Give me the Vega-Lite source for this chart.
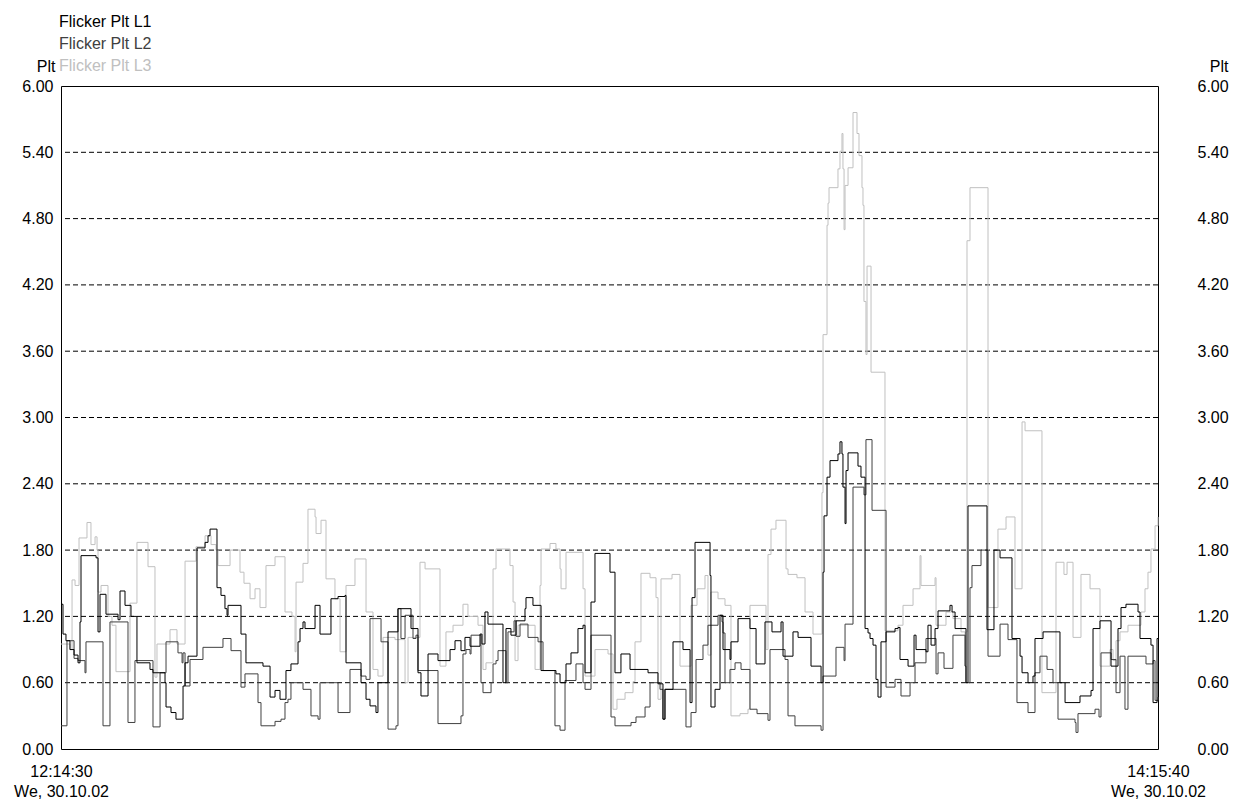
{
"$schema": "https://vega.github.io/schema/vega-lite/v6.json",
"width": 1097, "height": 663,
"autosize": {"type": "none"},
"padding": {"left": 61, "top": 86, "right": 76, "bottom": 54},
"background": "white",
"config": {"view": {"stroke": "#000000", "strokeWidth": 1}, "font": "Liberation Sans"},
"layer": [
{"data": {"values": [{"g":0.6},{"g":1.2},{"g":1.8},{"g":2.4},{"g":3.0},{"g":3.6},{"g":4.2},{"g":4.8},{"g":5.4}]},
 "mark": {"type": "rule", "stroke": "#000000", "strokeWidth": 1, "strokeDash": [5, 3]},
 "encoding": {"y": {"field": "g", "type": "quantitative", "scale": {"domain": [0, 6], "nice": false},
   "axis": {"orient": "right", "values": [0,0.6,1.2,1.8,2.4,3.0,3.6,4.2,4.8,5.4,6.0], "format": ".2f", "ticks": false, "domain": false, "grid": false,
     "labelAlign": "left", "labelPadding": 39, "labelFontSize": 16, "labelColor": "#000000", "labelBaseline": "middle",
     "title": "Plt", "titleAngle": 0, "titleX": 70, "titleY": -20, "titleAlign": "right", "titleBaseline": "middle", "titleFontSize": 16, "titleFontWeight": "normal", "titleColor": "#000000"}}}},
{"data": {"values": [
{"m":0,"s":"L3","v":0.95},{"m":0.99,"s":"L3","v":0.9},{"m":1.22,"s":"L3","v":1.53},{"m":1.55,"s":"L3","v":1.48},{"m":1.99,"s":"L3","v":1.91},{"m":2.87,"s":"L3","v":2.05},{"m":3.31,"s":"L3","v":1.85},{"m":3.76,"s":"L3","v":1.92},{"m":3.98,"s":"L3","v":1.8},{"m":4.09,"s":"L3","v":1.42},{"m":4.42,"s":"L3","v":1.48},{"m":5.19,"s":"L3","v":1.2},{"m":5.63,"s":"L3","v":1.12},{"m":6.07,"s":"L3","v":0.7},{"m":7.62,"s":"L3","v":1.32},{"m":8.39,"s":"L3","v":1.87},{"m":9.61,"s":"L3","v":1.65},{"m":10.38,"s":"L3","v":0.65},{"m":10.6,"s":"L3","v":0.95},{"m":12.04,"s":"L3","v":1.08},{"m":12.81,"s":"L3","v":0.95},{"m":13.7,"s":"L3","v":1.7},{"m":14.91,"s":"L3","v":1.83},{"m":15.91,"s":"L3","v":1.93},{"m":16.57,"s":"L3","v":1.85},{"m":17.12,"s":"L3","v":1.8},{"m":17.34,"s":"L3","v":1.66},{"m":18.67,"s":"L3","v":1.8},{"m":19.77,"s":"L3","v":1.6},{"m":20.21,"s":"L3","v":1.5},{"m":20.88,"s":"L3","v":1.36},{"m":21.43,"s":"L3","v":1.45},{"m":21.98,"s":"L3","v":1.28},{"m":22.64,"s":"L3","v":1.66},{"m":23.64,"s":"L3","v":1.74},{"m":24.74,"s":"L3","v":1.24},{"m":25.51,"s":"L3","v":1.2},{"m":25.85,"s":"L3","v":0.88},{"m":25.96,"s":"L3","v":1.51},{"m":26.73,"s":"L3","v":1.68},{"m":27.28,"s":"L3","v":2.17},{"m":28.06,"s":"L3","v":2.1},{"m":28.17,"s":"L3","v":1.95},{"m":28.72,"s":"L3","v":2.07},{"m":29.27,"s":"L3","v":1.54},{"m":30.26,"s":"L3","v":1.36},{"m":30.82,"s":"L3","v":0.88},{"m":31.48,"s":"L3","v":1.48},{"m":32.47,"s":"L3","v":1.72},{"m":33.69,"s":"L3","v":1.24},{"m":34.46,"s":"L3","v":0.72},{"m":35.01,"s":"L3","v":0.66},{"m":35.57,"s":"L3","v":1.01},{"m":36.89,"s":"L3","v":0.99},{"m":38.0,"s":"L3","v":0.6},{"m":38.33,"s":"L3","v":1.01},{"m":39.65,"s":"L3","v":1.69},{"m":40.21,"s":"L3","v":1.63},{"m":41.86,"s":"L3","v":0.75},{"m":42.52,"s":"L3","v":1.06},{"m":43.3,"s":"L3","v":1.12},{"m":44.4,"s":"L3","v":1.31},{"m":44.95,"s":"L3","v":1.2},{"m":46.06,"s":"L3","v":1.12},{"m":46.61,"s":"L3","v":0.72},{"m":46.94,"s":"L3","v":0.78},{"m":47.72,"s":"L3","v":1.63},{"m":48.05,"s":"L3","v":1.81},{"m":49.59,"s":"L3","v":1.66},{"m":49.93,"s":"L3","v":1.33},{"m":50.15,"s":"L3","v":0.8},{"m":50.48,"s":"L3","v":1.12},{"m":52.36,"s":"L3","v":0.72},{"m":52.91,"s":"L3","v":1.48},{"m":53.02,"s":"L3","v":1.81},{"m":54.01,"s":"L3","v":1.86},{"m":54.67,"s":"L3","v":1.81},{"m":55.12,"s":"L3","v":1.63},{"m":55.23,"s":"L3","v":1.45},{"m":55.78,"s":"L3","v":1.78},{"m":57.66,"s":"L3","v":1.45},{"m":57.88,"s":"L3","v":0.66},{"m":58.98,"s":"L3","v":0.9},{"m":60.42,"s":"L3","v":0.86},{"m":60.97,"s":"L3","v":0.36},{"m":61.41,"s":"L3","v":0.45},{"m":62.3,"s":"L3","v":0.51},{"m":63.18,"s":"L3","v":0.61},{"m":63.4,"s":"L3","v":0.97},{"m":64.06,"s":"L3","v":1.59},{"m":65.06,"s":"L3","v":1.55},{"m":65.72,"s":"L3","v":1.37},{"m":65.94,"s":"L3","v":0.45},{"m":66.27,"s":"L3","v":1.54},{"m":67.49,"s":"L3","v":1.58},{"m":68.37,"s":"L3","v":0.75},{"m":69.59,"s":"L3","v":1.3},{"m":70.25,"s":"L3","v":1.45},{"m":71.13,"s":"L3","v":1.57},{"m":71.46,"s":"L3","v":0.85},{"m":71.79,"s":"L3","v":1.42},{"m":72.57,"s":"L3","v":1.36},{"m":73.34,"s":"L3","v":1.3},{"m":74.0,"s":"L3","v":0.3},{"m":75.0,"s":"L3","v":0.32},{"m":75.88,"s":"L3","v":0.36},{"m":76.1,"s":"L3","v":1.3},{"m":77.87,"s":"L3","v":0.9},{"m":78.09,"s":"L3","v":1.76},{"m":78.42,"s":"L3","v":1.99},{"m":78.97,"s":"L3","v":2.07},{"m":80.08,"s":"L3","v":1.63},{"m":80.3,"s":"L3","v":1.58},{"m":81.29,"s":"L3","v":1.55},{"m":82.18,"s":"L3","v":1.24},{"m":83.06,"s":"L3","v":1.04},{"m":84.05,"s":"L3","v":2.32},{"m":84.17,"s":"L3","v":3.75},{"m":84.61,"s":"L3","v":4.74},{"m":84.72,"s":"L3","v":4.94},{"m":84.83,"s":"L3","v":5.08},{"m":85.82,"s":"L3","v":5.25},{"m":86.04,"s":"L3","v":5.41},{"m":86.26,"s":"L3","v":5.57},{"m":86.37,"s":"L3","v":5.25},{"m":86.49,"s":"L3","v":4.7},{"m":86.6,"s":"L3","v":5.1},{"m":86.93,"s":"L3","v":5.26},{"m":87.48,"s":"L3","v":5.76},{"m":87.92,"s":"L3","v":5.57},{"m":88.14,"s":"L3","v":5.37},{"m":88.47,"s":"L3","v":5.08},{"m":88.58,"s":"L3","v":4.92},{"m":88.69,"s":"L3","v":4.05},{"m":88.91,"s":"L3","v":3.57},{"m":89.03,"s":"L3","v":4.37},{"m":89.47,"s":"L3","v":3.41},{"m":91.01,"s":"L3","v":1.07},{"m":92.45,"s":"L3","v":1.12},{"m":93.0,"s":"L3","v":1.3},{"m":94.11,"s":"L3","v":1.45},{"m":94.88,"s":"L3","v":1.75},{"m":94.99,"s":"L3","v":1.48},{"m":96.54,"s":"L3","v":1.55},{"m":96.65,"s":"L3","v":1.12},{"m":97.75,"s":"L3","v":1.24},{"m":98.52,"s":"L3","v":1.18},{"m":99.41,"s":"L3","v":1.06},{"m":99.85,"s":"L3","v":0.75},{"m":99.96,"s":"L3","v":1.06},{"m":100.07,"s":"L3","v":4.6},{"m":100.4,"s":"L3","v":5.08},{"m":102.39,"s":"L3","v":1.28},{"m":103.49,"s":"L3","v":1.99},{"m":104.38,"s":"L3","v":2.1},{"m":105.37,"s":"L3","v":1.45},{"m":106.15,"s":"L3","v":2.96},{"m":106.48,"s":"L3","v":2.88},{"m":108.35,"s":"L3","v":0.51},{"m":109.9,"s":"L3","v":1.69},{"m":110.78,"s":"L3","v":1.58},{"m":111.12,"s":"L3","v":1.69},{"m":111.78,"s":"L3","v":1.01},{"m":112.66,"s":"L3","v":1.58},{"m":113.66,"s":"L3","v":1.45},{"m":114.76,"s":"L3","v":0.75},{"m":115.87,"s":"L3","v":0.9},{"m":116.2,"s":"L3","v":0.8},{"m":116.53,"s":"L3","v":0.98},{"m":116.97,"s":"L3","v":1.06},{"m":117.85,"s":"L3","v":1.12},{"m":119.29,"s":"L3","v":1.24},{"m":119.73,"s":"L3","v":1.45},{"m":120.06,"s":"L3","v":1.6},{"m":120.39,"s":"L3","v":1.81},{"m":120.84,"s":"L3","v":2.02},{"m":121.17,"s":"L3","v":2.1},
{"m":0,"s":"L2","v":0.21},{"m":0.66,"s":"L2","v":0.98},{"m":1.44,"s":"L2","v":0.82},{"m":1.88,"s":"L2","v":0.8},{"m":2.65,"s":"L2","v":0.69},{"m":2.76,"s":"L2","v":0.97},{"m":4.64,"s":"L2","v":0.21},{"m":5.41,"s":"L2","v":1.15},{"m":7.4,"s":"L2","v":0.24},{"m":8.17,"s":"L2","v":0.8},{"m":10.16,"s":"L2","v":0.2},{"m":10.94,"s":"L2","v":0.69},{"m":11.6,"s":"L2","v":0.97},{"m":12.92,"s":"L2","v":0.87},{"m":13.37,"s":"L2","v":0.78},{"m":13.48,"s":"L2","v":0.87},{"m":13.7,"s":"L2","v":0.57},{"m":14.25,"s":"L2","v":0.81},{"m":15.68,"s":"L2","v":0.92},{"m":17.89,"s":"L2","v":1.0},{"m":18.78,"s":"L2","v":0.89},{"m":19.88,"s":"L2","v":0.56},{"m":20.32,"s":"L2","v":0.68},{"m":21.76,"s":"L2","v":0.42},{"m":22.09,"s":"L2","v":0.21},{"m":23.64,"s":"L2","v":0.25},{"m":24.3,"s":"L2","v":0.27},{"m":24.74,"s":"L2","v":0.42},{"m":25.07,"s":"L2","v":0.45},{"m":25.4,"s":"L2","v":0.6},{"m":26.73,"s":"L2","v":0.54},{"m":27.61,"s":"L2","v":0.3},{"m":28.39,"s":"L2","v":0.27},{"m":28.61,"s":"L2","v":0.6},{"m":30.6,"s":"L2","v":0.33},{"m":31.92,"s":"L2","v":0.72},{"m":33.14,"s":"L2","v":0.66},{"m":33.69,"s":"L2","v":0.63},{"m":34.13,"s":"L2","v":1.18},{"m":35.35,"s":"L2","v":0.97},{"m":36.12,"s":"L2","v":0.18},{"m":37.0,"s":"L2","v":0.21},{"m":37.22,"s":"L2","v":1.27},{"m":37.55,"s":"L2","v":1.0},{"m":38.0,"s":"L2","v":1.21},{"m":38.88,"s":"L2","v":1.0},{"m":39.21,"s":"L2","v":1.03},{"m":39.43,"s":"L2","v":0.71},{"m":41.64,"s":"L2","v":0.23},{"m":44.18,"s":"L2","v":0.3},{"m":44.4,"s":"L2","v":0.86},{"m":44.73,"s":"L2","v":0.9},{"m":45.18,"s":"L2","v":0.86},{"m":45.29,"s":"L2","v":1.03},{"m":46.39,"s":"L2","v":0.6},{"m":46.61,"s":"L2","v":0.51},{"m":47.5,"s":"L2","v":0.6},{"m":47.72,"s":"L2","v":0.77},{"m":48.05,"s":"L2","v":0.8},{"m":48.27,"s":"L2","v":0.89},{"m":49.15,"s":"L2","v":0.6},{"m":49.37,"s":"L2","v":1.06},{"m":50.04,"s":"L2","v":1.16},{"m":50.26,"s":"L2","v":1.02},{"m":50.7,"s":"L2","v":1.13},{"m":51.58,"s":"L2","v":1.01},{"m":52.69,"s":"L2","v":0.97},{"m":53.24,"s":"L2","v":0.71},{"m":54.56,"s":"L2","v":0.21},{"m":55.12,"s":"L2","v":0.17},{"m":55.67,"s":"L2","v":0.62},{"m":56.88,"s":"L2","v":0.77},{"m":57.66,"s":"L2","v":0.6},{"m":57.88,"s":"L2","v":0.54},{"m":58.54,"s":"L2","v":1.03},{"m":60.75,"s":"L2","v":0.29},{"m":61.19,"s":"L2","v":0.21},{"m":62.96,"s":"L2","v":0.24},{"m":63.51,"s":"L2","v":0.29},{"m":64.51,"s":"L2","v":0.38},{"m":65.06,"s":"L2","v":0.6},{"m":66.16,"s":"L2","v":0.54},{"m":66.49,"s":"L2","v":0.27},{"m":66.71,"s":"L2","v":0.54},{"m":69.03,"s":"L2","v":0.2},{"m":69.59,"s":"L2","v":0.33},{"m":70.14,"s":"L2","v":0.81},{"m":70.91,"s":"L2","v":0.94},{"m":71.46,"s":"L2","v":1.12},{"m":72.57,"s":"L2","v":1.21},{"m":73.01,"s":"L2","v":1.15},{"m":73.12,"s":"L2","v":1.05},{"m":73.34,"s":"L2","v":0.6},{"m":73.89,"s":"L2","v":0.72},{"m":74.45,"s":"L2","v":0.78},{"m":75.11,"s":"L2","v":0.72},{"m":76.1,"s":"L2","v":0.36},{"m":76.88,"s":"L2","v":0.32},{"m":78.09,"s":"L2","v":0.26},{"m":78.31,"s":"L2","v":0.9},{"m":79.97,"s":"L2","v":0.81},{"m":80.3,"s":"L2","v":0.3},{"m":81.07,"s":"L2","v":0.21},{"m":83.95,"s":"L2","v":0.17},{"m":84.17,"s":"L2","v":0.66},{"m":85.6,"s":"L2","v":0.92},{"m":86.49,"s":"L2","v":0.8},{"m":86.6,"s":"L2","v":1.13},{"m":87.48,"s":"L2","v":2.37},{"m":88.69,"s":"L2","v":2.3},{"m":88.91,"s":"L2","v":2.8},{"m":89.58,"s":"L2","v":2.16},{"m":91.13,"s":"L2","v":0.56},{"m":92.12,"s":"L2","v":0.63},{"m":92.78,"s":"L2","v":0.48},{"m":93.78,"s":"L2","v":0.6},{"m":94.33,"s":"L2","v":0.78},{"m":95.54,"s":"L2","v":1.0},{"m":96.65,"s":"L2","v":0.68},{"m":96.87,"s":"L2","v":0.87},{"m":97.53,"s":"L2","v":0.73},{"m":98.52,"s":"L2","v":1.03},{"m":99.85,"s":"L2","v":0.75},{"m":99.96,"s":"L2","v":0.6},{"m":100.4,"s":"L2","v":1.46},{"m":100.62,"s":"L2","v":1.66},{"m":101.62,"s":"L2","v":1.8},{"m":102.39,"s":"L2","v":0.84},{"m":103.72,"s":"L2","v":1.13},{"m":104.6,"s":"L2","v":0.99},{"m":105.59,"s":"L2","v":0.42},{"m":106.81,"s":"L2","v":0.33},{"m":107.58,"s":"L2","v":0.69},{"m":108.13,"s":"L2","v":0.84},{"m":108.91,"s":"L2","v":0.72},{"m":109.57,"s":"L2","v":0.6},{"m":110.12,"s":"L2","v":0.27},{"m":112.0,"s":"L2","v":0.24},{"m":112.11,"s":"L2","v":0.15},{"m":112.33,"s":"L2","v":0.32},{"m":114.21,"s":"L2","v":0.36},{"m":114.65,"s":"L2","v":0.29},{"m":114.87,"s":"L2","v":0.87},{"m":115.98,"s":"L2","v":0.81},{"m":116.53,"s":"L2","v":0.51},{"m":116.97,"s":"L2","v":0.84},{"m":117.52,"s":"L2","v":0.36},{"m":117.85,"s":"L2","v":0.84},{"m":119.84,"s":"L2","v":0.77},{"m":120.62,"s":"L2","v":0.8},{"m":120.84,"s":"L2","v":0.44},{"m":121.17,"s":"L2","v":0.47},
{"m":0,"s":"L1","v":1.31},{"m":0.22,"s":"L1","v":1.04},{"m":0.55,"s":"L1","v":0.98},{"m":0.99,"s":"L1","v":0.9},{"m":1.44,"s":"L1","v":0.85},{"m":1.88,"s":"L1","v":0.78},{"m":2.1,"s":"L1","v":1.15},{"m":2.21,"s":"L1","v":1.75},{"m":3.87,"s":"L1","v":1.73},{"m":4.09,"s":"L1","v":1.06},{"m":4.31,"s":"L1","v":1.4},{"m":4.97,"s":"L1","v":1.22},{"m":6.3,"s":"L1","v":1.17},{"m":6.52,"s":"L1","v":1.43},{"m":7.07,"s":"L1","v":1.3},{"m":7.73,"s":"L1","v":1.2},{"m":8.39,"s":"L1","v":0.78},{"m":9.83,"s":"L1","v":0.72},{"m":10.16,"s":"L1","v":0.69},{"m":11.49,"s":"L1","v":0.6},{"m":11.6,"s":"L1","v":0.38},{"m":12.15,"s":"L1","v":0.33},{"m":12.7,"s":"L1","v":0.27},{"m":13.48,"s":"L1","v":0.57},{"m":13.7,"s":"L1","v":0.78},{"m":14.03,"s":"L1","v":0.84},{"m":15.02,"s":"L1","v":1.82},{"m":15.91,"s":"L1","v":1.87},{"m":16.24,"s":"L1","v":1.93},{"m":16.46,"s":"L1","v":1.99},{"m":17.23,"s":"L1","v":1.46},{"m":17.67,"s":"L1","v":1.39},{"m":18.11,"s":"L1","v":1.27},{"m":18.34,"s":"L1","v":1.21},{"m":18.45,"s":"L1","v":1.3},{"m":19.88,"s":"L1","v":1.04},{"m":20.43,"s":"L1","v":0.78},{"m":22.31,"s":"L1","v":0.75},{"m":23.09,"s":"L1","v":0.47},{"m":23.64,"s":"L1","v":0.53},{"m":24.19,"s":"L1","v":0.45},{"m":24.85,"s":"L1","v":0.71},{"m":25.4,"s":"L1","v":0.77},{"m":26.18,"s":"L1","v":0.97},{"m":26.4,"s":"L1","v":1.09},{"m":26.73,"s":"L1","v":1.15},{"m":26.95,"s":"L1","v":1.09},{"m":28.06,"s":"L1","v":1.3},{"m":28.61,"s":"L1","v":1.04},{"m":29.82,"s":"L1","v":1.36},{"m":30.6,"s":"L1","v":1.38},{"m":31.37,"s":"L1","v":1.39},{"m":31.48,"s":"L1","v":0.78},{"m":33.14,"s":"L1","v":0.6},{"m":33.69,"s":"L1","v":0.45},{"m":34.13,"s":"L1","v":0.39},{"m":34.79,"s":"L1","v":0.33},{"m":35.01,"s":"L1","v":0.6},{"m":36.12,"s":"L1","v":1.06},{"m":37.22,"s":"L1","v":1.27},{"m":38.66,"s":"L1","v":1.09},{"m":39.43,"s":"L1","v":0.69},{"m":39.76,"s":"L1","v":0.48},{"m":40.54,"s":"L1","v":0.86},{"m":41.64,"s":"L1","v":0.8},{"m":42.97,"s":"L1","v":0.9},{"m":43.52,"s":"L1","v":0.98},{"m":44.18,"s":"L1","v":0.89},{"m":44.62,"s":"L1","v":1.01},{"m":45.18,"s":"L1","v":0.93},{"m":46.28,"s":"L1","v":1.04},{"m":46.5,"s":"L1","v":0.95},{"m":46.83,"s":"L1","v":1.24},{"m":47.16,"s":"L1","v":1.13},{"m":48.82,"s":"L1","v":0.6},{"m":49.15,"s":"L1","v":1.09},{"m":49.7,"s":"L1","v":1.03},{"m":50.26,"s":"L1","v":1.16},{"m":51.25,"s":"L1","v":1.27},{"m":51.36,"s":"L1","v":1.37},{"m":52.13,"s":"L1","v":1.3},{"m":53.02,"s":"L1","v":0.71},{"m":54.67,"s":"L1","v":0.68},{"m":55.12,"s":"L1","v":0.6},{"m":55.78,"s":"L1","v":0.77},{"m":56.33,"s":"L1","v":0.87},{"m":57.1,"s":"L1","v":1.09},{"m":57.66,"s":"L1","v":1.12},{"m":57.88,"s":"L1","v":0.69},{"m":58.54,"s":"L1","v":1.33},{"m":58.98,"s":"L1","v":1.77},{"m":60.64,"s":"L1","v":1.6},{"m":61.19,"s":"L1","v":0.69},{"m":61.85,"s":"L1","v":0.86},{"m":62.85,"s":"L1","v":0.72},{"m":64.84,"s":"L1","v":0.69},{"m":65.94,"s":"L1","v":0.59},{"m":66.49,"s":"L1","v":0.27},{"m":66.71,"s":"L1","v":0.54},{"m":67.6,"s":"L1","v":0.97},{"m":68.7,"s":"L1","v":0.9},{"m":69.48,"s":"L1","v":0.42},{"m":69.7,"s":"L1","v":1.37},{"m":70.03,"s":"L1","v":1.87},{"m":71.69,"s":"L1","v":1.57},{"m":71.79,"s":"L1","v":0.38},{"m":72.24,"s":"L1","v":0.54},{"m":72.79,"s":"L1","v":1.21},{"m":73.12,"s":"L1","v":0.9},{"m":73.89,"s":"L1","v":0.81},{"m":74.0,"s":"L1","v":0.97},{"m":74.78,"s":"L1","v":1.18},{"m":76.1,"s":"L1","v":1.09},{"m":76.77,"s":"L1","v":0.77},{"m":77.76,"s":"L1","v":1.15},{"m":78.53,"s":"L1","v":1.06},{"m":79.53,"s":"L1","v":1.15},{"m":79.75,"s":"L1","v":0.84},{"m":80.85,"s":"L1","v":1.06},{"m":81.41,"s":"L1","v":1.01},{"m":82.84,"s":"L1","v":0.75},{"m":83.95,"s":"L1","v":0.6},{"m":84.17,"s":"L1","v":1.6},{"m":84.28,"s":"L1","v":2.11},{"m":84.61,"s":"L1","v":2.46},{"m":84.94,"s":"L1","v":2.61},{"m":85.82,"s":"L1","v":2.67},{"m":86.04,"s":"L1","v":2.78},{"m":86.26,"s":"L1","v":2.67},{"m":86.37,"s":"L1","v":2.37},{"m":86.6,"s":"L1","v":2.04},{"m":86.71,"s":"L1","v":2.52},{"m":86.93,"s":"L1","v":2.68},{"m":88.03,"s":"L1","v":2.56},{"m":88.36,"s":"L1","v":2.46},{"m":88.81,"s":"L1","v":1.09},{"m":89.14,"s":"L1","v":1.05},{"m":89.36,"s":"L1","v":1.0},{"m":89.69,"s":"L1","v":0.94},{"m":90.02,"s":"L1","v":0.63},{"m":90.24,"s":"L1","v":0.47},{"m":90.57,"s":"L1","v":0.97},{"m":91.13,"s":"L1","v":1.06},{"m":92.12,"s":"L1","v":1.09},{"m":92.45,"s":"L1","v":1.1},{"m":92.67,"s":"L1","v":0.81},{"m":93.56,"s":"L1","v":0.75},{"m":94.22,"s":"L1","v":1.03},{"m":94.44,"s":"L1","v":0.9},{"m":95.54,"s":"L1","v":0.88},{"m":95.76,"s":"L1","v":1.12},{"m":96.1,"s":"L1","v":0.94},{"m":96.54,"s":"L1","v":1.09},{"m":96.87,"s":"L1","v":1.25},{"m":98.19,"s":"L1","v":1.3},{"m":98.42,"s":"L1","v":1.24},{"m":98.75,"s":"L1","v":1.09},{"m":99.96,"s":"L1","v":0.6},{"m":100.18,"s":"L1","v":2.2},{"m":102.28,"s":"L1","v":1.08},{"m":103.05,"s":"L1","v":1.8},{"m":103.72,"s":"L1","v":1.73},{"m":105.04,"s":"L1","v":1.0},{"m":105.93,"s":"L1","v":0.84},{"m":106.15,"s":"L1","v":0.69},{"m":106.81,"s":"L1","v":0.6},{"m":107.36,"s":"L1","v":0.66},{"m":107.58,"s":"L1","v":1.0},{"m":108.47,"s":"L1","v":1.06},{"m":110.34,"s":"L1","v":0.6},{"m":110.9,"s":"L1","v":0.42},{"m":112.55,"s":"L1","v":0.48},{"m":113.77,"s":"L1","v":0.53},{"m":113.99,"s":"L1","v":1.09},{"m":114.76,"s":"L1","v":1.16},{"m":115.98,"s":"L1","v":0.75},{"m":116.75,"s":"L1","v":1.09},{"m":117.08,"s":"L1","v":1.28},{"m":117.63,"s":"L1","v":1.31},{"m":118.96,"s":"L1","v":1.24},{"m":119.18,"s":"L1","v":1.0},{"m":120.39,"s":"L1","v":0.94},{"m":120.62,"s":"L1","v":0.42},{"m":121.06,"s":"L1","v":1.0},{"m":121.17,"s":"L1","v":1.0}
]},
 "mark": {"type": "line", "interpolate": "step-after", "strokeWidth": 1},
 "encoding": {
   "x": {"field": "m", "type": "quantitative", "scale": {"domain": [0, 121.1667], "nice": false, "zero": false},
     "axis": {"values": [0, 121.1667], "labelExpr": "datum.value < 60 ? ['12:14:30', 'We, 30.10.02'] : ['14:15:40', 'We, 30.10.02']",
       "ticks": false, "domain": false, "grid": false, "labelFontSize": 16, "labelColor": "#000000", "labelPadding": 14,
       "labelBaseline": "top", "labelLineHeight": 20, "labelFlush": false, "labelOverlap": false, "labelAlign": "center", "title": null}},
   "y": {"field": "v", "type": "quantitative", "scale": {"domain": [0, 6], "nice": false},
     "axis": {"orient": "left", "values": [0,0.6,1.2,1.8,2.4,3.0,3.6,4.2,4.8,5.4,6.0], "format": ".2f", "ticks": false, "domain": false, "grid": false,
       "labelPadding": 8, "labelFontSize": 16, "labelColor": "#000000", "labelBaseline": "middle",
       "title": "Plt", "titleAngle": 0, "titleX": -6, "titleY": -20, "titleAlign": "right", "titleBaseline": "middle", "titleFontSize": 16, "titleFontWeight": "normal", "titleColor": "#000000"}},
   "color": {"field": "s", "type": "nominal",
     "scale": {"domain": ["L1", "L2", "L3"], "range": ["#000000", "#404040", "#c0c0c0"]},
     "legend": {"orient": "none", "legendX": -18, "legendY": -72, "title": null, "direction": "vertical",
       "symbolSize": 0, "symbolStrokeWidth": 0, "symbolOpacity": 0, "labelOffset": 0, "padding": 0,
       "labelFontSize": 16, "rowPadding": 6, "labelBaseline": "middle",
       "labelExpr": "'Flicker Plt ' + datum.label",
       "encode": {"labels": {"update": {"fill": {"scale": "color", "field": "value"}}}}}}
 }}
],
"resolve": {"axis": {"y": "independent"}}
}
